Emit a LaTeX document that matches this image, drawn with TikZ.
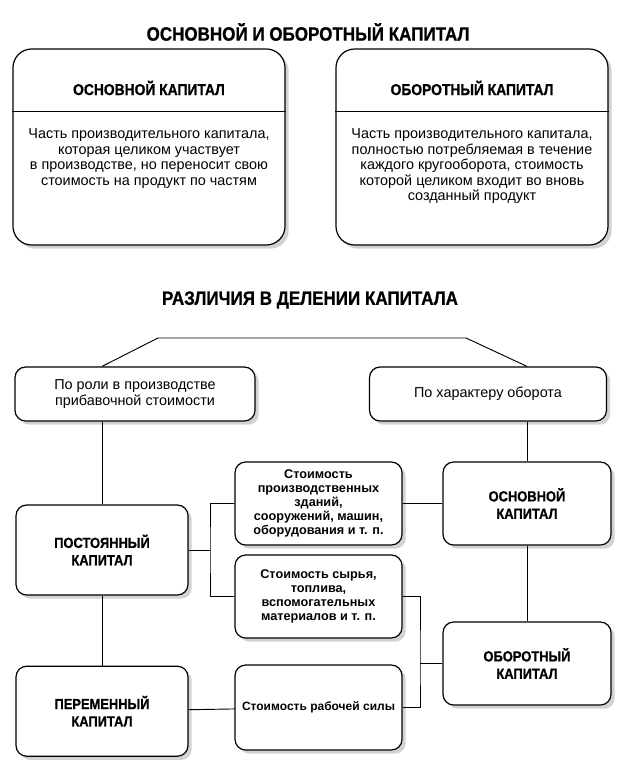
\documentclass[tikz,border=0pt]{standalone}
\usepackage{fontspec}
\setmainfont{Liberation Sans}
\newfontfamily\narrowbold{Liberation Sans}[UprightFont={* Bold}, FakeStretch=0.88, FakeBold=0.8]
\usepackage{tikz}
\usetikzlibrary{positioning, shadows, calc}

\begin{document}
\begin{tikzpicture}[
    x=0.75pt, y=-0.75pt,
    node distance=52.5pt,
    box/.style={rectangle, draw=black, fill=white, line width=0.9pt, rounded corners=8pt, align=center, inner sep=2pt,
        drop shadow={shadow xshift=2.8pt, shadow yshift=-2.8pt, fill=black!35}},
    bigbox/.style={box, rounded corners=14pt, minimum width=204pt, minimum height=147pt},
    keybox/.style={box, minimum width=129pt, minimum height=67.5pt, font=\narrowbold\fontsize{11}{13}\selectfont},
    itembox/.style={box, minimum width=125.25pt, minimum height=62.25pt, font=\fontsize{9.5}{10.6}\selectfont\bfseries},
    heading/.style={font=\narrowbold\fontsize{14.5}{16}\selectfont},
    capt/.style={font=\narrowbold\fontsize{11.8}{13}\selectfont},
    note/.style={align=center, font=\fontsize{10.8}{11.6}\selectfont},
    link/.style={line width=0.7pt}
]
    \useasboundingbox (0,0) rectangle (640,764);

    % Titles
    \node (title) [heading] at (308,32) {ОСНОВНОЙ И ОБОРОТНЫЙ КАПИТАЛ};
    \node (title2) [heading] at (310,300) {РАЗЛИЧИЯ В ДЕЛЕНИИ КАПИТАЛА};

    % Definitions (upper pair)
    \coordinate (rule) at (0,111);
    \node (fixed) [bigbox] at (149,147) {};
    \node (circ) [bigbox] at (472,147) {};
    \draw [link] (fixed.west |- rule) -- (fixed.east |- rule);
    \draw [link] (circ.west |- rule) -- (circ.east |- rule);
    \node (fixedhd) [capt] at (149,88) {ОСНОВНОЙ КАПИТАЛ};
    \node (circhd) [capt] at (472,88) {ОБОРОТНЫЙ КАПИТАЛ};
    \node (fixedtx) [note, anchor=north] at (149,124) {Часть производительного капитала,\\которая целиком участвует\\в производстве, но переносит свою\\стоимость на продукт по частям};
    \node (circtx) [note, anchor=north] at (472,124) {Часть производительного капитала,\\полностью потребляемая в течение\\каждого кругооборота, стоимость\\которой целиком входит во вновь\\созданный продукт};

    % Criteria
    \node (byrole) [box, minimum width=180pt, minimum height=40.5pt, font=\fontsize{10.8}{12.5}\selectfont] at (135,394) {По роли в производстве\\прибавочной стоимости};
    \node (byturn) [box, minimum width=177.75pt, minimum height=40.5pt, font=\fontsize{10.8}{12.5}\selectfont] at (488,394) {По характеру оборота};

    % Capital parts
    \node (constcap) [keybox] at (102,550) {ПОСТОЯННЫЙ\\КАПИТАЛ};
    \node (varcap) [keybox, below=of constcap] {ПЕРЕМЕННЫЙ\\КАПИТАЛ};
    \node (bldg) [itembox] at (318.5,503.5) {Стоимость\\производственных\\зданий,\\сооружений, машин,\\оборудования и т. п.};
    \node (matr) [itembox] at (318.5,596.5) {Стоимость сырья,\\топлива,\\вспомогательных\\материалов и т. п.};
    \node (labr) [itembox, minimum height=63.75pt, font=\fontsize{9}{10.6}\selectfont\bfseries] at (318.5,707.5) {Стоимость рабочей силы};
    \node (fixcap) [keybox, minimum width=126pt, minimum height=62.25pt] at (527,503.5) {ОСНОВНОЙ\\КАПИТАЛ};
    \node (circcap) [keybox, minimum width=126pt, minimum height=62.25pt] at (527,663.5) {ОБОРОТНЫЙ\\КАПИТАЛ};

    % Split
    \coordinate (splitL) at (158,338);
    \coordinate (splitR) at (466,338);
    \draw [link] (byrole.north -| constcap.north) -- (splitL) -- (splitR) -- (byturn.north -| fixcap.north);
    \draw [link] (byrole.south -| constcap.north) -- (constcap.north);
    \draw [link] (byturn.south -| fixcap.north) -- (fixcap.north);

    % Links
    \coordinate (forkL) at (210,550);
    \coordinate (forkR) at (420,663.5);
    \draw [link] (constcap) -- (varcap);
    \draw [link] (fixcap) -- (circcap);
    \draw [link] (constcap.east) -- (forkL);
    \draw [link] (bldg.west) -| (forkL) |- (matr.west);
    \draw [link] (varcap) -- (labr);
    \draw [link] (bldg) -- (fixcap);
    \draw [link] (matr.east) -| (forkR) |- (labr.east);
    \draw [link] (forkR) -- (circcap.west);

\end{tikzpicture}
\end{document}
